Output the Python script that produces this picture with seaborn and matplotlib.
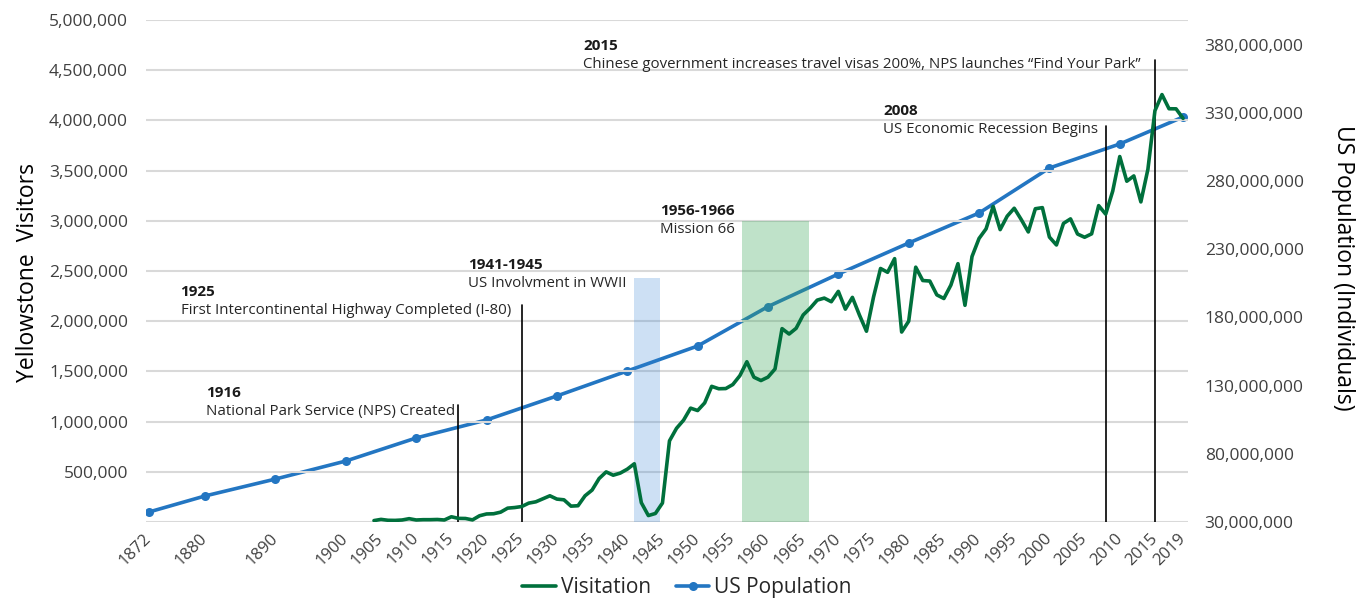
"""Yellowstone visitation vs. US population, with historical events marked."""

import matplotlib

matplotlib.use("Agg")
import matplotlib.pyplot as plt
import pandas as pd
import seaborn as sns
from matplotlib.lines import Line2D
from matplotlib.ticker import FuncFormatter

# --- data ---
visit_years = list(range(1904, 2020))
visitors_m = [
    0.014, 0.026, 0.017, 0.016, 0.020, 0.033, 0.020, 0.023, 0.023, 0.025,  # 1904-1913
    0.020, 0.052, 0.036, 0.035, 0.021, 0.062, 0.080, 0.082, 0.098, 0.138,  # 1914-1923
    0.144, 0.154, 0.188, 0.201, 0.231, 0.261, 0.228, 0.221, 0.158, 0.162,  # 1924-1933
    0.261, 0.318, 0.433, 0.499, 0.466, 0.487, 0.526, 0.580, 0.192, 0.064,  # 1934-1943
    0.085, 0.189, 0.808, 0.933, 1.014, 1.134, 1.110, 1.186, 1.351, 1.327,  # 1944-1953
    1.329, 1.369, 1.457, 1.596, 1.442, 1.409, 1.443, 1.524, 1.926, 1.872,  # 1954-1963
    1.929, 2.062, 2.130, 2.210, 2.230, 2.194, 2.297, 2.120, 2.237, 2.061,  # 1964-1973
    1.900, 2.240, 2.525, 2.487, 2.623, 1.892, 2.000, 2.538, 2.405, 2.400,  # 1974-1983
    2.262, 2.226, 2.360, 2.573, 2.158, 2.644, 2.824, 2.920, 3.144, 2.912,  # 1984-1993
    3.046, 3.125, 3.012, 2.889, 3.120, 3.131, 2.838, 2.759, 2.974, 3.019,  # 1994-2003
    2.868, 2.836, 2.870, 3.151, 3.066, 3.296, 3.640, 3.394, 3.447, 3.188,  # 2004-2013
    3.513, 4.097, 4.257, 4.116, 4.115, 4.020,                              # 2014-2019
]

pop_years = [1872, 1880, 1890, 1900, 1910, 1920, 1930, 1940,
             1950, 1960, 1970, 1980, 1990, 2000, 2010, 2019]
population_m = [37.3, 49.1, 61.5, 74.7, 91.6, 104.8, 122.4, 140.7,
                159.0, 187.9, 211.8, 234.5, 256.5, 289.5, 307.1, 326.9]

x_tick_years = [1872, 1880, 1890, 1900] + list(range(1905, 2016, 5)) + [2019]
left_ticks = list(range(0, 5_000_001, 500_000))
right_ticks = list(range(30_000_000, 380_000_001, 50_000_000))

# single-year events: year and top of the marker line (in visitors)
line_years = [1916, 1925, 2008, 2015]
line_tops_m = [1.165, 2.16, 3.94, 4.60]

# period events shaded on the chart
span_starts = [1941, 1956.3]
span_ends = [1944.7, 1965.9]
span_tops_m = [2.43, 3.0]

event_titles = ["1916", "1925", "1941-1945", "1956-1966", "2008", "2015"]
event_texts = [
    "National Park Service (NPS) Created",
    "First Intercontinental Highway Completed (I-80)",
    "US Involvment in WWII",
    "Mission 66",
    "US Economic Recession Begins",
    "Chinese government increases travel visas 200%, NPS launches \u201cFind Your Park\u201d",
]
event_text_x = [1880.1, 1876.5, 1917.4, 1944.6, 1976.4, 1933.7]
event_text_y_m = [1.285, 2.29, 2.56, 3.10, 4.09, 4.74]

GREEN = "#00703c"
BLUE = "#2376c2"
GRID = "#d9d9d9"
TICK_COLOR = "#404040"


def thousands(v, _pos):
    return f"{int(round(v)):,}" if v > 0 else ""


def main() -> None:
    sns.set_theme(style="white")
    plt.rcParams["font.family"] = ["Open Sans", "DejaVu Sans"]

    visits = pd.DataFrame({"year": visit_years,
                           "visitors": [v * 1e6 for v in visitors_m]})
    pop = pd.DataFrame({"year": pop_years,
                        "population": [p * 1e6 for p in population_m]})

    fig = plt.figure(figsize=(13.66, 6.02), dpi=100)
    ax = fig.add_axes([0.1069, 0.1329, 0.7628, 0.8339])
    ax2 = ax.twinx()

    # population on the secondary axis, visitation kept on top
    sns.lineplot(data=pop, x="year", y="population", ax=ax2, color=BLUE,
                 linewidth=2.6, marker="o", markersize=6.5,
                 markeredgewidth=0, legend=False)
    sns.lineplot(data=visits, x="year", y="visitors", ax=ax, color=GREEN,
                 linewidth=2.6, legend=False, zorder=5)
    ax.set_zorder(ax2.get_zorder() + 1)
    ax.patch.set_visible(False)

    # shaded periods
    ax.fill_between([span_starts[0], span_ends[0]], 0, span_tops_m[0] * 1e6,
                    color="#2f7fd1", alpha=0.24, linewidth=0, zorder=1)
    ax.fill_between([span_starts[1], span_ends[1]], 0, span_tops_m[1] * 1e6,
                    color="#3aa657", alpha=0.32, linewidth=0, zorder=1)

    # event marker lines
    for yr, top in zip(line_years, line_tops_m):
        ax.plot([yr, yr], [0, top * 1e6], color="black", linewidth=1.2, zorder=4)

    for x, y, title, text in zip(event_text_x, event_text_y_m,
                                 event_titles, event_texts):
        ax.text(x, y * 1e6, title, fontsize=11, fontweight="bold",
                color="#1a1a1a", va="center", ha="left", zorder=6)
        ax.text(x, (y - 0.185) * 1e6, text, fontsize=10.8, color="#262626",
                va="center", ha="left", zorder=6)

    # axes
    ax.set_xlim(1871.6, 2019.7)
    ax.set_ylim(0, 5_000_000)
    ax2.set_ylim(30_000_000, 398_000_000)
    ax.set_yticks(left_ticks)
    ax2.set_yticks(right_ticks)
    ax.yaxis.set_major_formatter(FuncFormatter(thousands))
    ax2.yaxis.set_major_formatter(FuncFormatter(thousands))
    ax.set_xticks(x_tick_years)
    ax.set_xticklabels([str(y) for y in x_tick_years], rotation=45,
                       ha="right", va="center", rotation_mode="anchor")
    ax.tick_params(axis="x", length=0, pad=10, labelsize=12,
                   labelcolor=TICK_COLOR)
    ax.tick_params(axis="y", length=0, pad=13, labelsize=12.5,
                   labelcolor=TICK_COLOR)
    ax2.tick_params(axis="y", length=0, pad=12, labelsize=12.5,
                    labelcolor=TICK_COLOR)

    ax.grid(axis="y", color=GRID, linewidth=1.5, zorder=0)
    ax2.grid(False)
    ax.set_axisbelow(True)
    for a in (ax, ax2):
        for side in ("top", "left", "right", "bottom"):
            a.spines[side].set_visible(False)
    ax.set_xlabel("")
    ax.set_ylabel("")
    ax2.set_ylabel("")

    fig.text(28 / 1366, 1 - 273 / 602, "Yellowstone  Visitors", rotation=90,
             ha="center", va="center", fontsize=16.5, color="black")
    fig.text(1343 / 1366, 1 - 268 / 602, "US Population (Individuals)",
             rotation=270, ha="center", va="center", fontsize=16.5,
             color="black")

    handles = [
        Line2D([], [], color=GREEN, linewidth=2.6),
        Line2D([], [], color=BLUE, linewidth=2.6, marker="o", markersize=6.5,
               markeredgewidth=0),
    ]
    fig.legend(handles, ["Visitation", "US Population"], loc="center",
               bbox_to_anchor=(0.503, 0.024), ncol=2, frameon=False,
               fontsize=15, handlelength=1.6, handletextpad=0.25,
               columnspacing=1.2, borderpad=0.1)

    fig.savefig("out.png", dpi=100)
    plt.close(fig)


if __name__ == "__main__":
    main()
